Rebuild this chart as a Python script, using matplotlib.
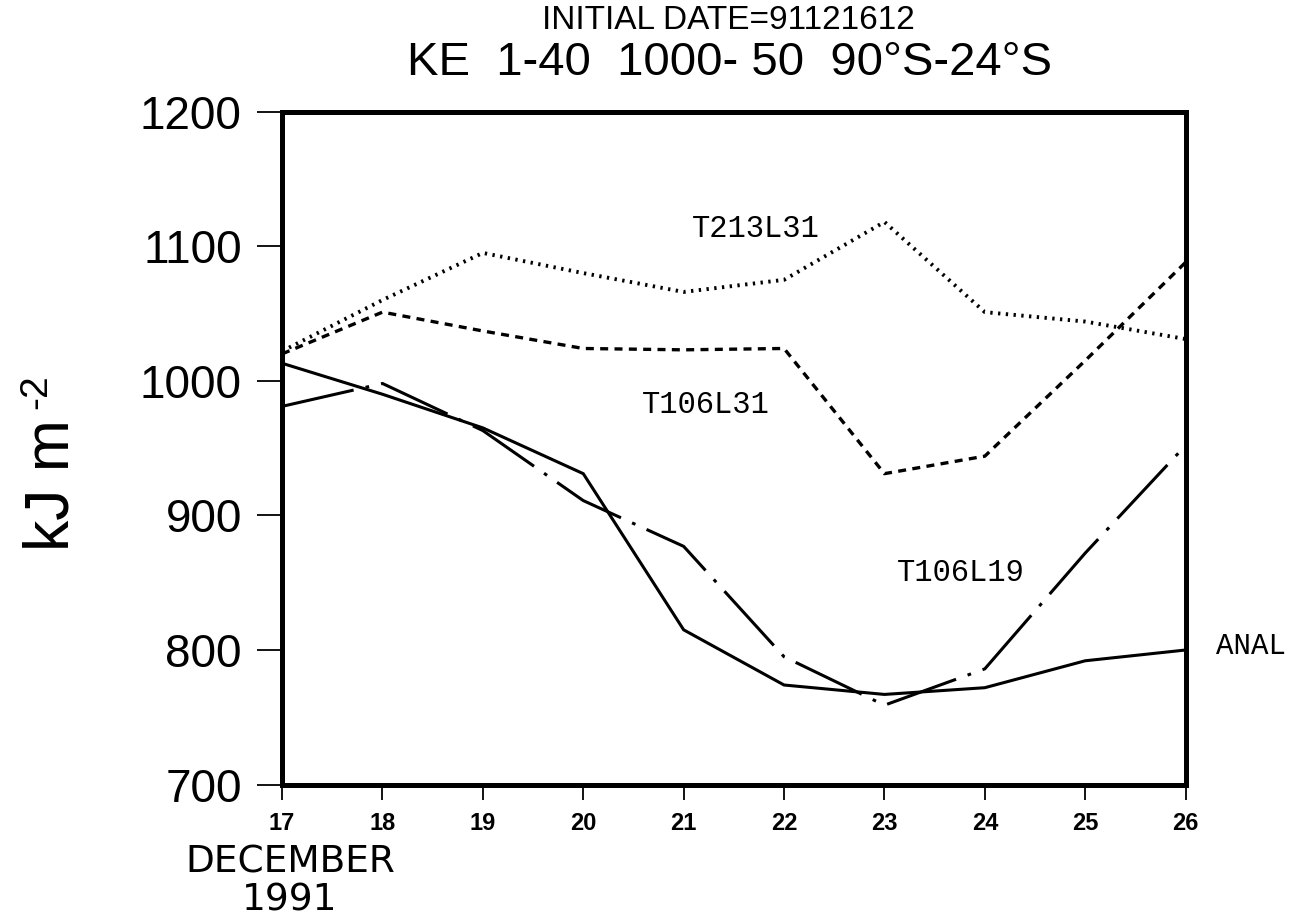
import numpy as np
import matplotlib.pyplot as plt

days = [17, 18, 19, 20, 21, 22, 23, 24, 25, 26]
anal = [1013, 990, 965, 931, 815, 774, 767, 772, 792, 800]
t106l19 = [981, 998, 963, 911, 877, 795, 759, 786, 872, 952]
t106l31 = [1020, 1051, 1037, 1024, 1023, 1024, 931, 944, 1015, 1088]
t213l31 = [1022, 1060, 1095, 1080, 1066, 1075, 1118, 1051, 1044, 1031]
yticks = [700, 800, 900, 1000, 1100, 1200]

plt.rcParams['font.family'] = ['Liberation Sans', 'DejaVu Sans']

fig = plt.figure(figsize=(13, 9.22), dpi=100)
ax = fig.add_axes([0.217, 0.149, 0.695, 0.730])

lw = 2.2
ax.plot(days, anal, color='black', lw=lw, solid_joinstyle='miter')
ax.plot(days, t106l19, color='black', lw=lw, dashes=(24, 4, 1.2, 4))
ax.plot(days, t106l31, color='black', lw=2.4, dashes=(2.4, 1.9))
ax.plot(days, t213l31, color='black', lw=2.8, dashes=(0.6, 1.4))

mono = 'Liberation Mono'
ax.text(21.72, 1113, 'T213L31', family=mono, fontsize=22, ha='center', va='center')
ax.text(21.22, 982, 'T106L31', family=mono, fontsize=22, ha='center', va='center')
ax.text(23.76, 857, 'T106L19', family=mono, fontsize=22, ha='center', va='center')
ax.text(26.65, 803, 'ANAL', family=mono, fontsize=21, ha='center', va='center',
        clip_on=False)

ax.set_xlim(17, 26)
ax.set_ylim(700, 1200)
ax.set_xticks(days)
ax.set_xticklabels([str(d) for d in days], fontsize=17, fontweight='bold')
ax.set_yticks(yticks)
ax.set_yticklabels([str(v) for v in yticks], fontsize=33)
ax.tick_params(axis='y', direction='out', length=18, width=1.3, pad=11)
ax.tick_params(axis='x', direction='out', length=11, width=1.3, pad=9)
for sp in ax.spines.values():
    sp.set_linewidth(3.6)

fig.text(0.56, 0.978, 'INITIAL DATE=91121612', fontsize=24, ha='center', va='center')
fig.text(0.5615, 0.932, 'KE  1-40  1000- 50  90°S-24°S', fontsize=34,
         ha='center', va='center')
# y label: main part plus a small raised "-2"
fig.text(0.04, 1 - 485 / 922, 'kJ m', fontsize=45, rotation=90,
         ha='center', va='center')
fig.text(0.028, 1 - 392 / 922, '-2', fontsize=28, rotation=90,
         ha='center', va='center')
fig.text(0.223, 1 - 862 / 922, 'DECEMBER', fontsize=27, ha='center', va='center',
         family=['DejaVu Sans'])
fig.text(0.223, 1 - 900 / 922, '1991', fontsize=27, ha='center', va='center',
         family=['DejaVu Sans'])

fig.savefig('out.png', dpi=100)
